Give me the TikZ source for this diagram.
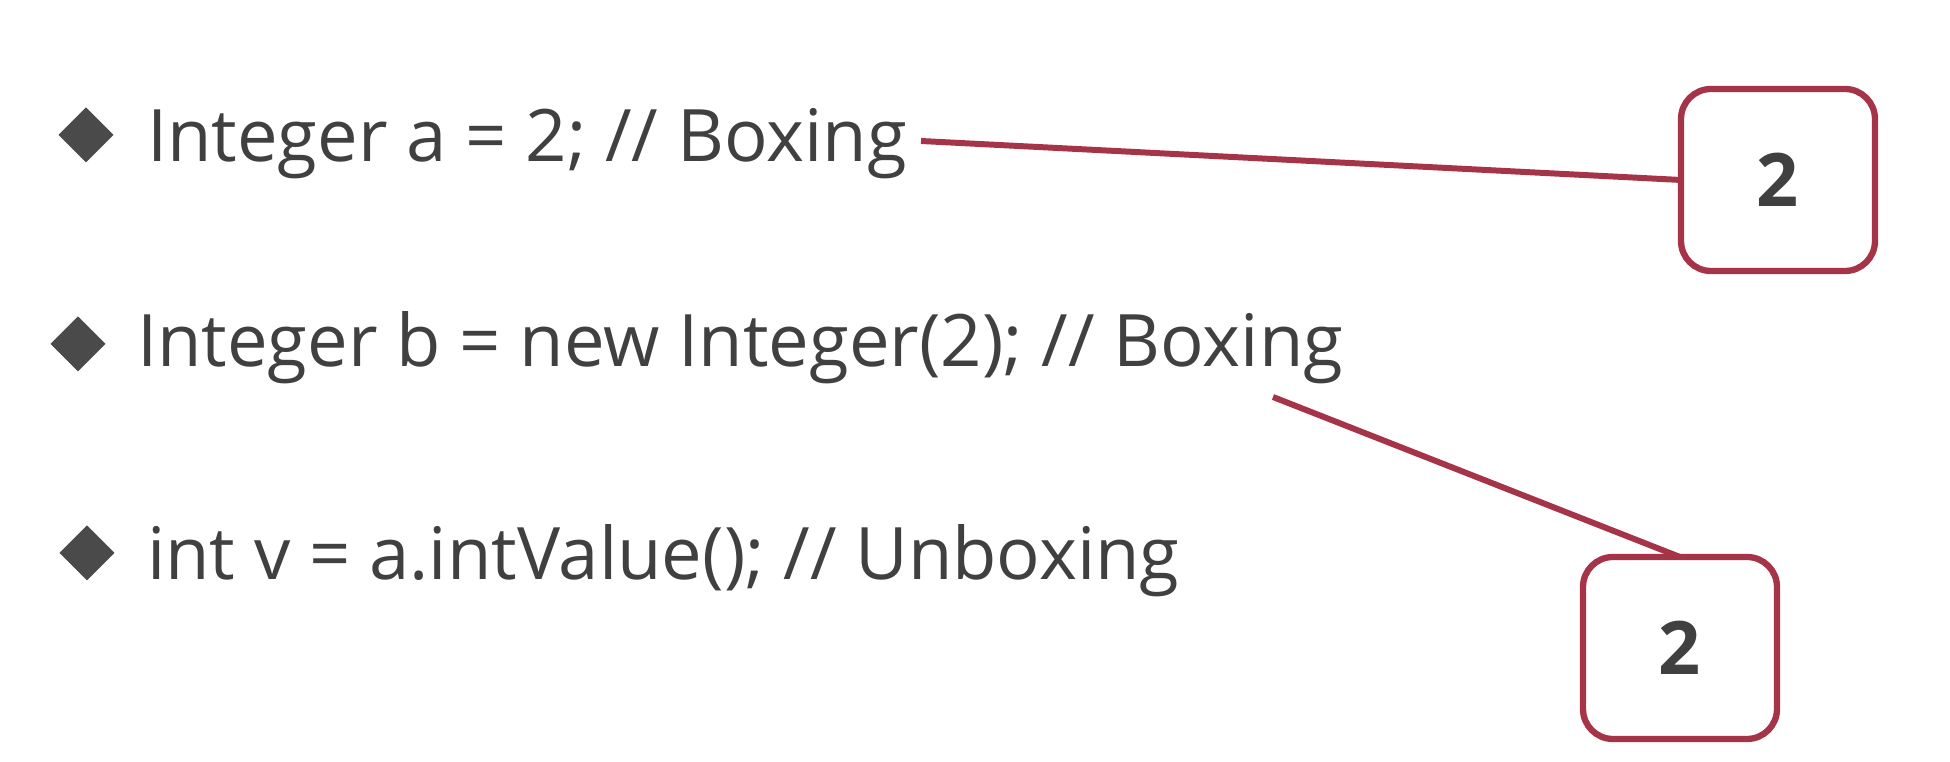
\documentclass[tikz,border=0pt]{standalone}
\usepackage{fontspec}
\setmainfont{Open Sans}
\usetikzlibrary{positioning}
\usetikzlibrary{shapes.geometric}

\definecolor{codegray}{HTML}{404040}
\definecolor{bulletgray}{HTML}{4A4A4A}
\definecolor{linkred}{HTML}{A53448}

\begin{document}
\begin{tikzpicture}[
			every node/.style={inner sep=0pt, outer sep=0pt},
			code/.style={anchor=base west, text=codegray, font=\fontsize{20.6}{25}\selectfont},
			bullet/.style={diamond, fill=bulletgray, minimum size=5.5mm},
			valbox/.style={draw=linkred, line width=1.8pt, rounded corners=3mm, fill=white,
				minimum width=19.4mm, minimum height=18.2mm, text=codegray,
				font=\bfseries\fontsize{21}{25}\selectfont},
			link/.style={draw=linkred, line width=1.7pt},
			]
			\useasboundingbox (0,0) rectangle (19.5,7.62);
			% the three statements
			\node[code] (boxa) at (1.47,6.00) {Integer a = 2; // Boxing};
			\node[code] (boxb) at (1.37,3.95) {Integer b = new Integer(2); // Boxing};
			\node[code] (unbox) at (1.47,1.82) {int v = a.intValue(); // Unboxing};
			\node[bullet] (dota) at (0.86,6.27) {};
			\node[bullet] (dotb) at (0.78,4.18) {};
			\node[bullet] (dotv) at (0.87,2.09) {};
			% the boxed values
			\node[valbox] (vala) at (17.78,5.82) {2};
			\node[valbox] (valb) at (16.80,1.14) {2};
			\coordinate (enda) at (9.21,6.21);
			\coordinate (endb) at (12.73,3.65);
			\draw[link] (enda) -- (vala.west);
			\draw[link] (endb) -- (valb.north);
		\end{tikzpicture}
\end{document}
